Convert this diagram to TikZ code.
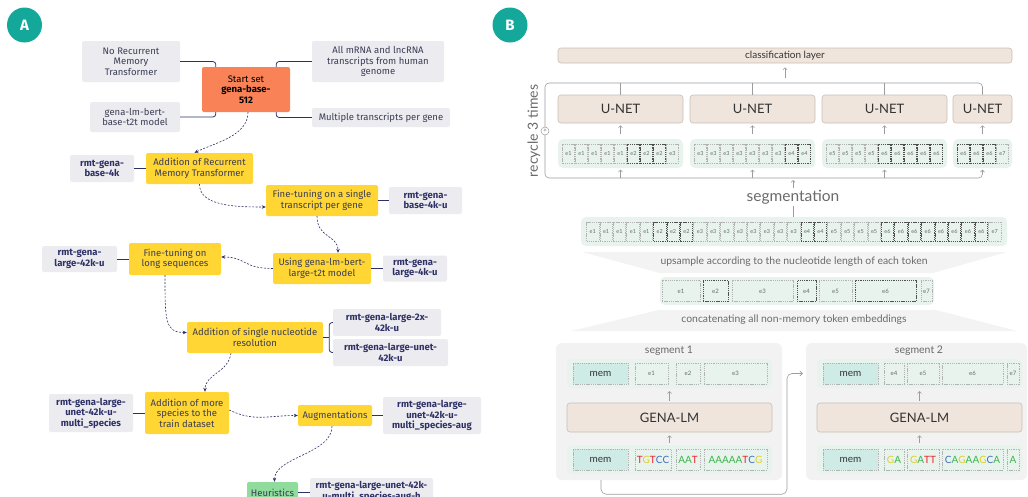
\documentclass[tikz,border=0pt]{standalone}
\usepackage{fontspec}
\setmainfont{Lato}
\newfontfamily\fira{Fira Sans}
\usetikzlibrary{arrows.meta}

\definecolor{badge}{HTML}{14A89B}
\definecolor{navy}{HTML}{2E3166}
\definecolor{inkA}{HTML}{3B3D55}
\definecolor{condgray}{HTML}{ECEBEF}
\definecolor{stageyel}{HTML}{FFD633}
\definecolor{startorg}{HTML}{FA8257}
\definecolor{heurgrn}{HTML}{8FDC9C}
\definecolor{beige}{HTML}{F0E5DC}
\definecolor{beigeline}{HTML}{C9BEB5}
\definecolor{tokgrn}{HTML}{E8F3EE}
\definecolor{memfill}{HTML}{CFEBE6}
\definecolor{panelgray}{HTML}{F2F2F2}
\definecolor{trapgray}{HTML}{F3F3F3}
\definecolor{lineB}{HTML}{9C9C9C}
\definecolor{inkB}{HTML}{333333}
\definecolor{softB}{HTML}{6A6A6A}
\definecolor{dashl}{HTML}{B3B3B3}
\definecolor{dashd}{HTML}{505050}
\definecolor{nucA}{HTML}{3DB54A}
\definecolor{nucT}{HTML}{E8262B}
\definecolor{nucG}{HTML}{DCCF2A}
\definecolor{nucC}{HTML}{3D6CC0}

\newcommand\ntA{\textcolor{nucA}{A}}
\newcommand\ntT{\textcolor{nucT}{T}}
\newcommand\ntG{\textcolor{nucG}{G}}
\newcommand\ntC{\textcolor{nucC}{C}}

\tikzset{
  boxA/.style 2 args={rectangle, rounded corners=2pt, minimum width=#1pt, minimum height=#2pt, inner sep=1pt, align=center},
  cond/.style={fill=condgray, text=inkA, font=\fira\fontsize{9.5}{10.5}\selectfont},
  model/.style={fill=condgray, text=navy, font=\fira\bfseries\fontsize{9.5}{10.5}\selectfont},
  stage/.style={fill=stageyel, text=inkA, font=\fira\fontsize{9.5}{10.5}\selectfont},
  flow/.style={navy, dash pattern=on 2pt off 1.5pt, line width=0.6pt, -{Stealth[length=4pt,width=3.5pt]}},
  link/.style={navy, line width=0.8pt},
  badgenode/.style={circle, fill=badge, minimum size=35pt, inner sep=0pt, text=white, font=\fira\bfseries\fontsize{15}{15}\selectfont},
  beigebox/.style={fill=beige, draw=beigeline, line width=0.6pt, rounded corners=3pt, text=inkB, inner sep=0pt},
  tokrow/.style={fill=tokgrn, rounded corners=5pt, inner sep=0pt},
  tok/.style={dash pattern=on 1.3pt off 0.9pt, line width=0.45pt, inner sep=0pt, minimum height=19pt, text=softB, font=\fontsize{5.5}{5.5}\selectfont},
  tkl/.style={tok, draw=dashl}, tkd/.style={tok, draw=dashd},
  tk1/.style={tkl}, tk2/.style={tkd}, tk3/.style={tkl}, tk4/.style={tkd},
  tk5/.style={tkl}, tk6/.style={tkd}, tk7/.style={tkl},
  memtok/.style={tkl, fill=memfill, minimum width=55pt, minimum height=21pt, text=inkB, font=\fontsize{10}{10}\selectfont},
  segtok/.style={tkl, minimum height=21pt},
  caption/.style={text=softB, font=\fontsize{10.4}{11}\selectfont},
  garrow/.style={lineB, line width=0.55pt, -{Straight Barb[length=2pt,width=4pt]}},
  gline/.style={lineB, line width=0.6pt}
}

\begin{document}
\begin{tikzpicture}[x=1pt, y=-1pt]
\useasboundingbox (0,0) rectangle (1028,496);
\clip (0,0) rectangle (1028,496);

% ---------- A: training stages
\node[badgenode] (badgeA) at (24.5,25) {A};

\node[cond, boxA={98}{41}] (nornt) at (131,61.5) {No Recurrent\\Memory\\Transformer};
\node[fill=startorg, text=black, boxA={88}{45}, font=\fira\fontsize{9.5}{10.5}\selectfont] (start) at (246,89.5) {Start set\\\textbf{gena-base-}\\\textbf{512}};
\node[cond, boxA={132}{41}] (allrna) at (378,61.5) {All mRNA and lncRNA\\transcripts from human\\genome};
\node[cond, boxA={90}{30}] (bertbase) at (135,117) {gena-lm-bert-\\base-t2t model};
\node[cond, boxA={138}{19}] (multi) at (381,117.5) {Multiple transcripts per gene};

\draw[link, rounded corners=3pt] (nornt.east) -| ([xshift=14pt]start.north west);
\draw[link, rounded corners=3pt] (bertbase.east) -| ([xshift=14pt]start.south west);
\draw[link, rounded corners=3pt] (allrna.west) -| ([xshift=-14pt]start.north east);
\draw[link, rounded corners=3pt] (multi.west) -| ([xshift=-14pt]start.south east);

\node[stage, boxA={107}{31}] (addrmt) at (199.5,168.5) {Addition of Recurrent\\Memory Transformer};
\node[model, boxA={64}{27}] (m4k) at (102,168.5) {rmt-gena-\\base-4k};
\node[stage, boxA={112}{31}] (ftsingle) at (322,200.5) {Fine-tuning on a single\\transcript per gene};
\node[model, boxA={73}{27}] (m4ku) at (425.5,200.5) {rmt-gena-\\base-4k-u};
\node[stage, boxA={98}{31}] (bertlarge) at (322,268.5) {Using gena-lm-bert-\\large-t2t model};
\node[model, boxA={64}{26}] (ml4ku) at (415,268.5) {rmt-gena-\\large-4k-u};
\node[stage, boxA={92}{32}] (ftlong) at (175,259) {Fine-tuning on\\long sequences};
\node[model, boxA={75}{26}] (ml42ku) at (79.5,259) {rmt-gena-\\large-42k-u};
\node[stage, boxA={136}{31}] (nucl) at (255,337.5) {Addition of single nucleotide\\resolution};
\node[model, boxA={108}{27}] (m2x) at (387,322.5) {rmt-gena-large-2x-\\42k-u};
\node[model, boxA={115}{27}] (munet) at (390.5,352.5) {rmt-gena-large-unet-\\42k-u};
\node[stage, boxA={84}{42}] (species) at (187,413) {Addition of more\\species to the\\train dataset};
\node[model, boxA={84}{38}] (mspec) at (91,413) {rmt-gena-large-\\unet-42k-u-\\multi\_species};
\node[stage, boxA={74}{21}] (aug) at (335,415.5) {Augmentations};
\node[model, boxA={98}{37}] (maug) at (432,415.5) {rmt-gena-large-\\unet-42k-u-\\multi\_species-aug};
\node[fill=heurgrn, text=inkA, boxA={51}{21}, font=\fira\fontsize{9.5}{10.5}\selectfont] (heur) at (272.5,492.5) {Heuristics};
\node[model, boxA={123}{27}] (mheur) at (371.5,491.5) {rmt-gena-large-unet-42k-\\u-multi\_species-aug-h};

% model links
\draw[link] (m4k.east) -- (m4k.east -| addrmt.west);
\draw[link] (ftsingle.east) -- (ftsingle.east -| m4ku.west);
\draw[link] (bertlarge.east) -- (bertlarge.east -| ml4ku.west);
\draw[link] (ml42ku.east) -- (ml42ku.east -| ftlong.west);
\draw[link] (nucl.east) -- ++(6,0);
\draw[link, rounded corners=3pt] (m2x.west) -| ([xshift=6pt]nucl.east) |- (munet.west);
\draw[link] (mspec.east) -- (mspec.east -| species.west);
\draw[link] (aug.east) -- (aug.east -| maug.west);
\draw[link] (heur.east) -- (heur.east -| mheur.west);

% stage flow
\draw[flow] ([xshift=2pt]start.south) .. controls +(0,24) and +(20,-10) .. ([xshift=-5pt]addrmt.north);
\draw[flow] (addrmt.south) .. controls +(0,22) and +(-30,0) .. ([yshift=-6.5pt]ftsingle.west);
\draw[flow] ([xshift=-5pt]ftsingle.south) .. controls +(0,22) and +(0,-18) .. ([xshift=16pt]bertlarge.north);
\draw[flow] (bertlarge.west) .. controls +(-30,0) and +(25,0) .. ([yshift=2pt]ftlong.east);
\draw[flow] ([xshift=-10pt]ftlong.south) .. controls +(0,45) and +(-22,0) .. ([yshift=5pt]nucl.west);
\draw[flow] ([xshift=-24pt]nucl.south) .. controls +(-3,20) and +(0,-18) .. ([xshift=18pt]species.north);
\draw[flow] ([yshift=3pt]species.east) .. controls +(25,12) and +(-30,0) .. (aug.west);
\draw[flow] ([xshift=-3pt]aug.south) .. controls +(0,28) and +(0,-25) .. ([xshift=2pt]heur.north);

% ---------- B: segmentation model
\node[badgenode] (badgeB) at (510,25) {B};
\node[beigebox, minimum width=454pt, minimum height=15pt, font=\fontsize{10}{10}\selectfont] (cls) at (785,55.5) {classification layer};

\foreach \k/\cx/\w in {1/620.5/125, 2/752.5/125, 3/884.5/125, 4/982.5/59} {
  \node[beigebox, minimum width=\w pt, minimum height=28pt, font=\fontsize{13}{13}\selectfont] (un\k) at (\cx,109) {U-NET};
  \node[tokrow, minimum width=\w pt, minimum height=29pt] (g\k) at (\cx,153.5) {};
}
\foreach \k/\gx/\labs in {1/558/{1,1,1,1,1,2,2,2,3}, 2/690/{3,3,3,3,3,3,3,4,4}, 3/822/{5,5,5,5,6,6,6,6,6}, 4/953/{6,6,6,7}}
  \foreach \t [count=\i] in \labs
    \node[tk\t, minimum width=12pt] (g\k t\i) at ({\gx+4+13*(\i-0.5)},153.5) {e\t};

% recycle frame
\coordinate (ftop) at (784,83);
\coordinate (fbot) at (545,178);
\draw[gline, rounded corners=4pt, -{Straight Barb[length=2pt,width=4pt]}, shorten >=1.5pt] (un4.north) |- (545,83) -- (fbot) -| (g4.south);
\foreach \k in {1,2,3} {
  \draw[gline] (un\k.north) -- (un\k.north |- ftop);
  \draw[garrow, shorten >=1.5pt] (g\k.south |- fbot) -- (g\k.south);
}
\foreach \k in {1,...,4}
  \draw[garrow, shorten <=5pt, shorten >=2pt] (g\k.north) -- (un\k.south);
\draw[garrow, shorten <=5pt, shorten >=4pt] (cls.south |- ftop) -- (cls.south);
\node[circle, draw=lineB, fill=white, line width=0.5pt, minimum size=8pt, inner sep=0pt, font=\fontsize{6}{6}\selectfont, text=softB] (plus) at (545,131) {+};
\node[rotate=90, font=\fontsize{14}{14}\selectfont, text=softB] (recyc) at (534,131) {recycle 3 times};

% segmentation and upsampling
\node[text=softB, font=\fontsize{15.5}{16}\selectfont, inner sep=2pt] (segm) at (793,197) {segmentation};
\node[tokrow, minimum width=426pt, minimum height=29pt] (bigrow) at (794,231.5) {};
\draw[garrow, shorten >=2pt] (segm.north) -- (segm.north |- fbot);
\draw[gline] (segm.south) -- (segm.south |- bigrow.north);
\foreach \t [count=\i] in {1,1,1,1,1,2,2,2,3,3,3,3,3,3,3,3,4,4,5,5,5,5,6,6,6,6,6,6,6,6,7}
  \node[tk\t, minimum width=12.4pt] (up\i) at ({586+13.4*(\i-0.5)},231.5) {e\t};

\fill[trapgray] (582,252) -- (1007,252) -- (933,273) -- (660,273) -- cycle;
\node[caption] (upsamp) at (794,262) {upsample according to the nucleotide length of each token};

\node[tokrow, minimum width=274pt, minimum height=28pt] (medrow) at (797,291) {};
\foreach \xa/\xb/\t in {662/700/1, 703/728/2, 732/793/3, 797/816/4, 819/852/5, 855/916/6, 921/932/7}
  \node[tk\t, minimum width={(\xb-\xa)*1pt}, minimum height=21pt, font=\fontsize{6}{6}\selectfont] (cat\t) at ({(\xa+\xb)/2},291) {e\t};

\fill[trapgray] (659,310) -- (936,310) -- (1017,331) -- (571,331) -- cycle;
\node[caption] (concat) at (794,320) {concatenating all non-memory token embeddings};

% segments
\node[fill=panelgray, rounded corners=6pt, minimum width=226pt, minimum height=137pt, inner sep=0pt] (sp1) at (669,411.5) {};
\node[fill=panelgray, rounded corners=6pt, minimum width=221pt, minimum height=137pt, inner sep=0pt] (sp2) at (916.5,411.5) {};
\node[text=softB, font=\fontsize{10.5}{11}\selectfont] (title1) at (669,351) {segment 1};
\node[text=softB, font=\fontsize{10.5}{11}\selectfont] (title2) at (919,351) {segment 2};

\foreach \s/\cx in {1/669.5, 2/919.5} {
  \node[tokrow, minimum width=205pt, minimum height=29pt] (top\s) at (\cx,373.5) {};
  \node[beigebox, minimum width=205pt, minimum height=29pt, font=\fontsize{13}{13}\selectfont] (glm\s) at (\cx,417.5) {GENA-LM};
  \node[tokrow, minimum width=205pt, minimum height=29pt] (bot\s) at (\cx,459.5) {};
  \draw[garrow, shorten <=2pt, shorten >=3pt] (glm\s.north) -- (top\s.south);
  \draw[garrow, shorten <=2pt, shorten >=3pt] (bot\s.north) -- (glm\s.south);
  \node[memtok] (memt\s) at ({\cx-69},373.5) {mem};
  \node[memtok] (memb\s) at ({\cx-69},459.5) {mem};
}

\foreach \xa/\xb/\lab in {635/668/e1, 676/700/e2, 704/767/e3, 884/904/e4, 907/939/e5, 942/1003/e6, 1007/1019/e7}
  \node[segtok, minimum width={(\xb-\xa)*1pt}, font=\fontsize{6}{6}\selectfont] (seg\lab) at ({(\xa+\xb)/2},373.5) {\lab};
\foreach \xa/\xb/\lab [count=\i] in {635/671/{\ntT\ntG\ntT\ntC\ntC}, 676/700/{\ntA\ntA\ntT}, 704/767/{\ntA\ntA\ntA\ntA\ntA\ntT\ntC\ntG},
    884/904/{\ntG\ntA}, 907/939/{\ntG\ntA\ntT\ntT}, 942/1003/{\ntC\ntA\ntG\ntA\ntA\ntG\ntC\ntA}, 1007/1019/{\ntA}}
  \node[segtok, minimum width={(\xb-\xa)*1pt}, font=\fontsize{10}{10}\selectfont] (seq\i) at ({(\xa+\xb)/2},459.5) {\lab};

\draw[gline, rounded corners=5pt, -{Straight Barb[length=2.5pt,width=5pt]}, shorten >=3pt] ([xshift=-68pt]sp1.south) -- ++(0,14) -| (787,373.5) -- (sp2.west |- top2.center);
\end{tikzpicture}
\end{document}
